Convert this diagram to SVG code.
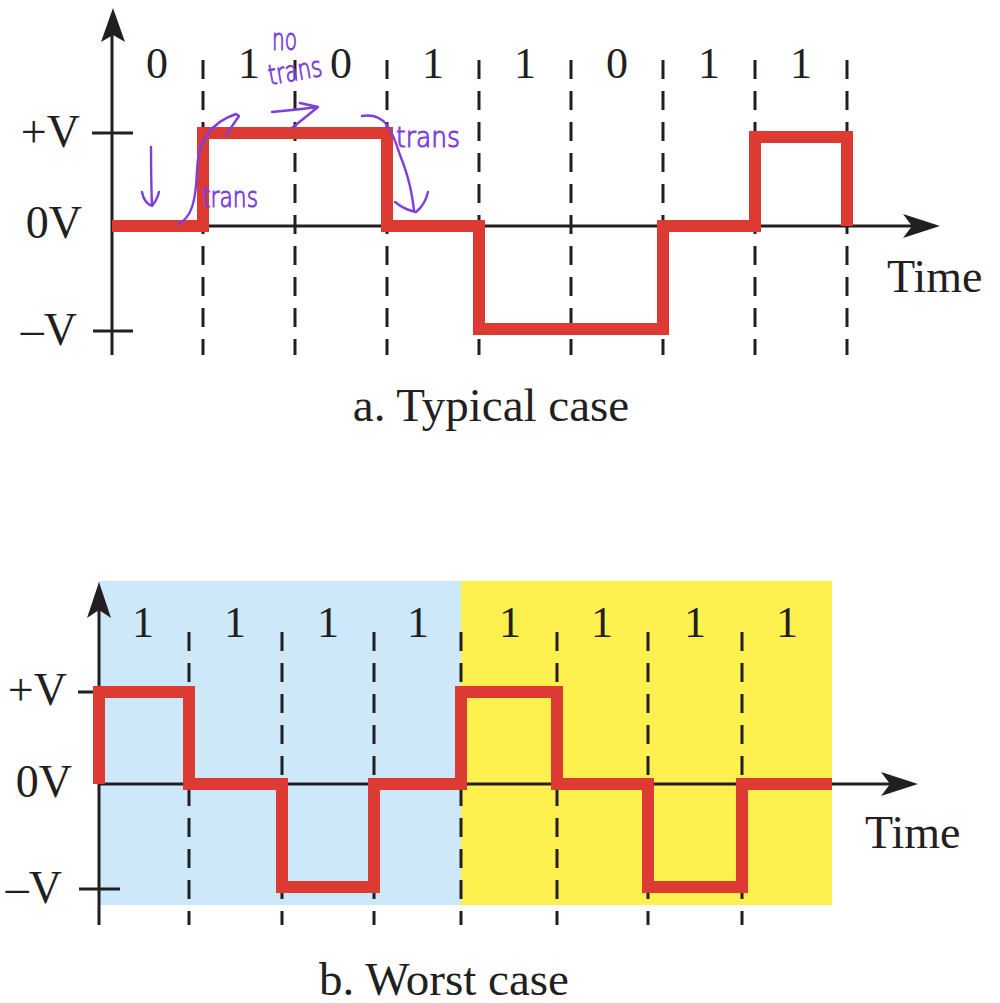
<svg xmlns="http://www.w3.org/2000/svg" width="1000" height="1003" viewBox="0 0 1000 1003">
<style>
.ax{stroke:#231f20;stroke-width:3;fill:none}
.dash{stroke:#231f20;stroke-width:3;stroke-dasharray:19 12;fill:none}
.sig{stroke:#dc3a33;stroke-width:12;fill:none;stroke-linejoin:miter;stroke-linecap:butt}
.lbl{font-family:"Liberation Serif","Times New Roman",serif;font-size:46px;fill:#231f20}
.bit{font-family:"Liberation Serif","Times New Roman",serif;font-size:44px;fill:#231f20;text-anchor:middle}
.cap{font-family:"Liberation Serif","Times New Roman",serif;font-size:47px;fill:#231f20;text-anchor:middle}
.hw{stroke:#7d3fdc;stroke-width:2.4;fill:none;stroke-linecap:round;stroke-linejoin:round}
.hwt{font-family:"DejaVu Sans",sans-serif;font-weight:200;fill:#7d3fdc;stroke:#7d3fdc;stroke-width:1}
.head{fill:#231f20}
</style>
<rect width="1000" height="1003" fill="#ffffff"/>

<g id="chart-a">
  <g id="a-grid">
    <path class="dash" d="M203,60V355M295,60V355M387,60V355M479,60V355M571,60V355M663,60V355M755,60V355M847,60V355"/>
  </g>
  <g id="a-axes">
    <path class="ax" d="M112,30V355M112,226H915M92,133H133M93,331H133"/>
    <path class="head" d="M113,8L125,42L113,35L101,42Z"/>
    <path class="head" d="M940,226L903,214L912,226L903,238Z"/>
  </g>
  <g id="a-signal">
    <path class="sig" d="M112,226H203V133H387V226H479V329H663V226H755V137H847V226"/>
  </g>
  <g id="a-labels">
    <text class="lbl" x="80" y="147" text-anchor="end">+V</text>
    <text class="lbl" x="82" y="238" text-anchor="end">0V</text>
    <text class="lbl" x="77" y="345" text-anchor="end">–V</text>
    <text class="lbl" x="887" y="292">Time</text>
    <text class="bit" x="157" y="78">0</text>
    <text class="bit" x="249" y="78">1</text>
    <text class="bit" x="341" y="78">0</text>
    <text class="bit" x="433" y="78">1</text>
    <text class="bit" x="525" y="78">1</text>
    <text class="bit" x="617" y="78">0</text>
    <text class="bit" x="709" y="78">1</text>
    <text class="bit" x="801" y="78">1</text>
    <text class="cap" x="491" y="421">a. Typical case</text>
  </g>
  <g id="a-annotations">
    <path class="hw" d="M151,147Q151,180 152,206M142,192Q144,203 152,206Q157,200 159,192"/>
    <path class="hw" d="M178,224C192,218 196,200 197,170C198,140 212,122 236,114L239,116L226,135"/>
    <path class="hw" d="M272,112Q295,110 318,107M300,103L318,107L292,128"/>
    <path class="hw" d="M362,116C385,112 392,130 400,155C410,180 412,195 414,210M395,202Q405,210 416,212Q425,205 428,192"/>
    <text class="hwt" x="202" y="207" font-size="28" textLength="56" lengthAdjust="spacingAndGlyphs">trans</text>
    <text class="hwt" x="272" y="50" font-size="30" textLength="25" lengthAdjust="spacingAndGlyphs">no</text>
    <text class="hwt" x="270" y="85" font-size="28" textLength="54" lengthAdjust="spacingAndGlyphs" transform="rotate(-10 270 85)">trans</text>
    <text class="hwt" x="396" y="147" font-size="28" textLength="64" lengthAdjust="spacingAndGlyphs">trans</text>
  </g>
</g>

<g id="chart-b">
  <g id="b-background">
    <rect x="98" y="581" width="363" height="324" fill="#cde8f8"/>
    <rect x="461" y="581" width="371" height="324" fill="#fdf04f"/>
  </g>
  <g id="b-grid">
    <path class="dash" d="M189,632V925M282,632V925M374,632V925M461,632V925M557,632V925M648,632V925M742,632V925"/>
  </g>
  <g id="b-axes">
    <path class="ax" d="M99,600V925M99,784H893M78,692H118M79,889H120"/>
    <path class="head" d="M99,582L111,618L99,610L87,618Z"/>
    <path class="head" d="M918,784L881,772L890,784L881,796Z"/>
  </g>
  <g id="b-signal">
    <path class="sig" d="M99,784V692H189V784H282V887H374V784H461V692H557V784H648V887H742V784H832"/>
  </g>
  <g id="b-labels">
    <text class="lbl" x="67" y="705" text-anchor="end">+V</text>
    <text class="lbl" x="72" y="797" text-anchor="end">0V</text>
    <text class="lbl" x="62" y="903" text-anchor="end">–V</text>
    <text class="lbl" x="865" y="848">Time</text>
    <text class="bit" x="143" y="637">1</text>
    <text class="bit" x="235" y="637">1</text>
    <text class="bit" x="328" y="637">1</text>
    <text class="bit" x="418" y="637">1</text>
    <text class="bit" x="510" y="637">1</text>
    <text class="bit" x="602" y="637">1</text>
    <text class="bit" x="695" y="637">1</text>
    <text class="bit" x="787" y="637">1</text>
    <text class="cap" x="444" y="995">b. Worst case</text>
  </g>
</g>
</svg>
